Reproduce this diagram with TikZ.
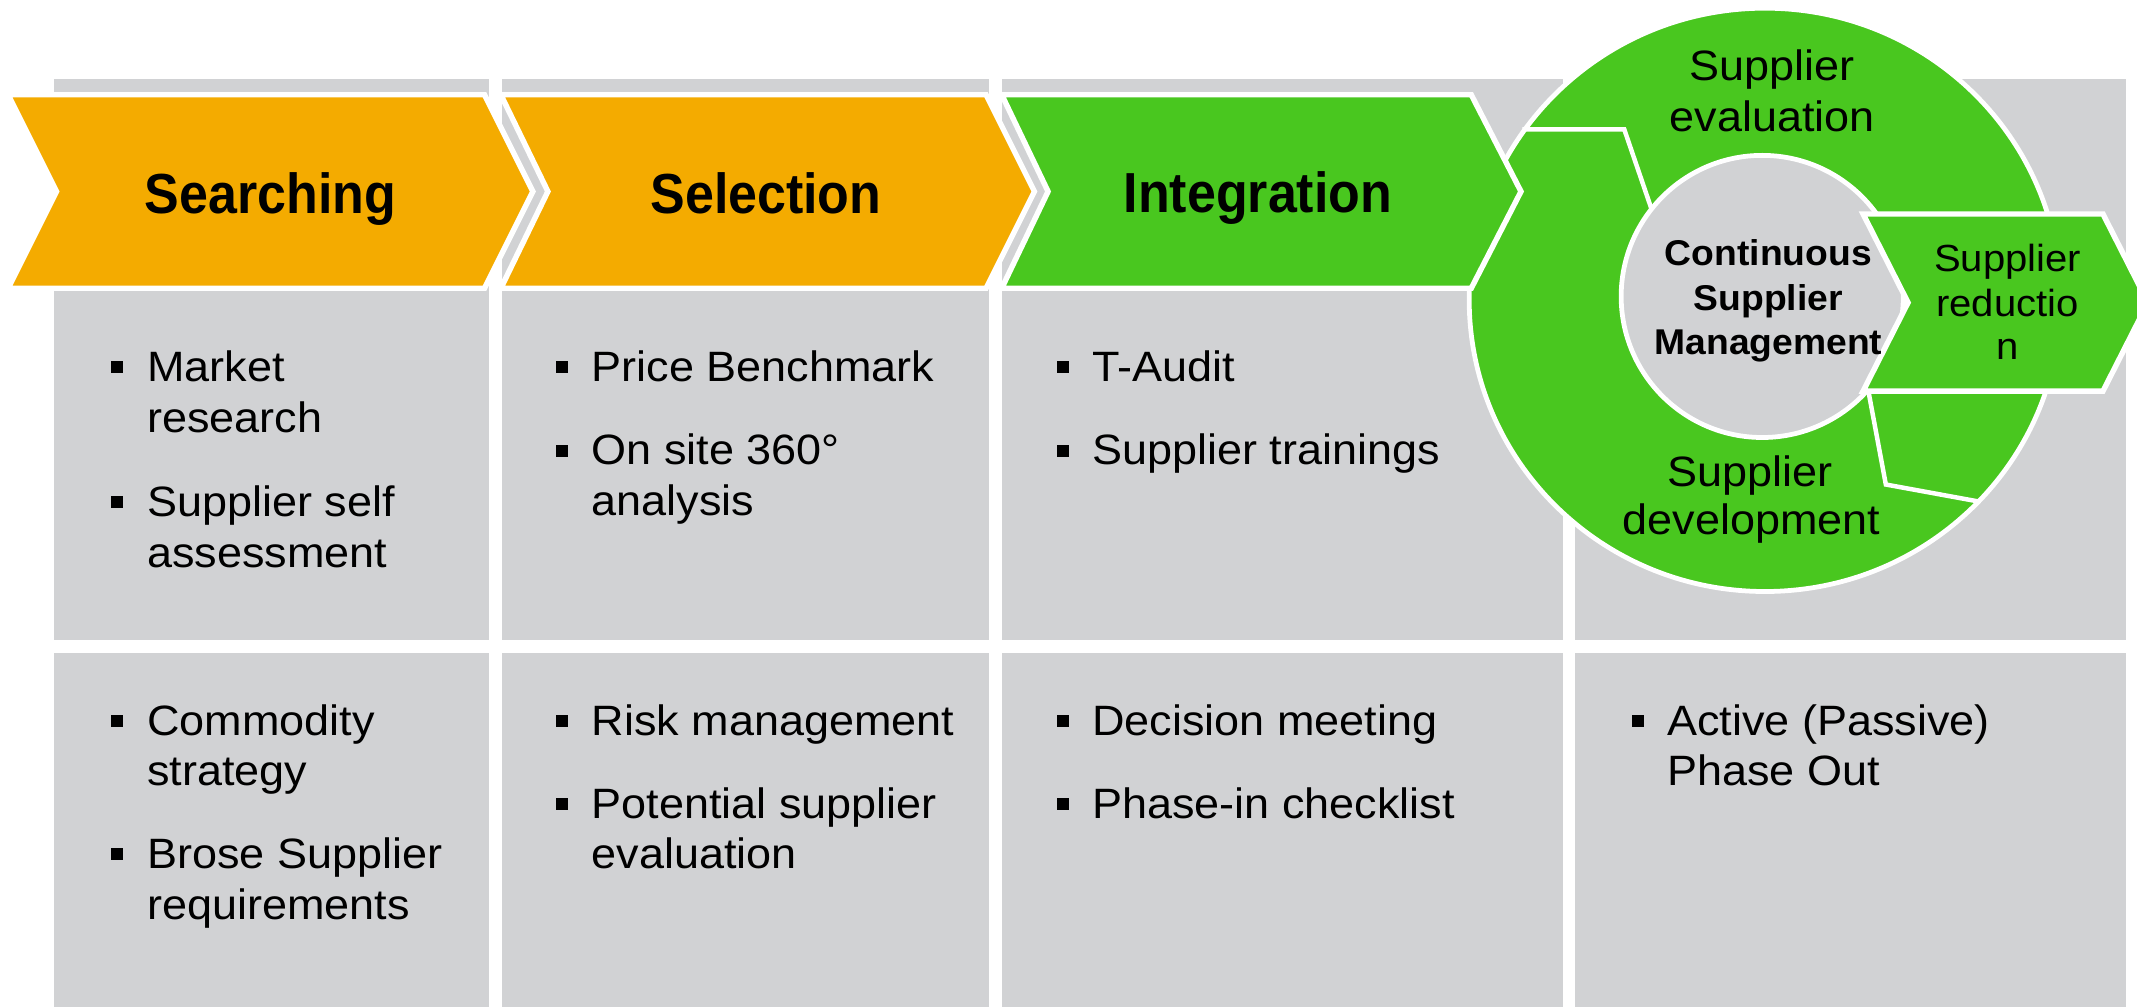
\documentclass[tikz,border=0pt]{standalone}
\usepackage{fontspec}
\setmainfont{Liberation Sans}
\newfontfamily\bodyfont[FakeStretch=1.06]{Liberation Sans}
\newfontfamily\headfont[FakeStretch=0.92]{Liberation Sans}
\newfontfamily\midfont[FakeStretch=1.04]{Liberation Sans}
\definecolor{brorange}{HTML}{F4AB00}
\definecolor{brgreen}{HTML}{49C71F}
\definecolor{brgray}{HTML}{D1D2D4}
\newcommand\bulsq[2]{\fill (#1-25.8,#2-14.8) rectangle ++(8.8,8.8);}
\begin{document}
\begin{tikzpicture}[x=0.7pt,y=-0.7pt,
  cell/.style={fill=brgray},
  chevshape/.style={draw=white, line width=2.8pt, line join=miter},
  ringline/.style={draw=white, line width=2.3pt, line join=miter},
  bt/.style={inner sep=0pt, anchor=base west, font=\bodyfont\fontsize{21.8pt}{26pt}\selectfont},
  ht/.style={inner sep=0pt, anchor=base, font=\headfont\bfseries\fontsize{29pt}{34pt}\selectfont},
  rt/.style={inner sep=0pt, anchor=base, font=\bodyfont\fontsize{21.8pt}{26pt}\selectfont},
  ct/.style={inner sep=0pt, anchor=base, font=\midfont\bfseries\fontsize{18.4pt}{22pt}\selectfont},
  redt/.style={inner sep=0pt, anchor=base, font=\bodyfont\fontsize{19.4pt}{23pt}\selectfont}]
\path[use as bounding box, fill=white] (0,0) rectangle (1568,739);
\clip (0,0) rectangle (1568,739);
% gray cells
\path[cell] (39.6,58) rectangle (358.5,469.6);
\path[cell] (368.5,58) rectangle (725.7,469.6);
\path[cell] (734.9,58) rectangle (1146.9,469.6);
\path[cell] (1155.8,58) rectangle (1560,469.6);
\path[cell] (39.6,478.9) rectangle (358.5,739);
\path[cell] (368.5,478.9) rectangle (725.7,739);
\path[cell] (734.9,478.9) rectangle (1146.9,739);
\path[cell] (1155.8,478.9) rectangle (1560,739);
% ring
\path[fill=brgreen, draw=white, line width=2.45pt] (1295,220) ellipse [x radius=151.9pt, y radius=149.8pt];
\path[ringline] (1117,95) -- (1191.8,95) -- (1213,157);
\path[ringline] (1369.6,280) -- (1383.7,355.5) -- (1452,368);
\path[fill=brgray, draw=white, line width=2.45pt] (1293,217.5) circle [radius=72.45pt];
% phase arrows
\path[chevshape, fill=brorange] (6,69.5) -- (355.5,69.5) -- (391,140.5) -- (355.5,211.5) -- (6,211.5) -- (41.5,140.5) -- cycle;
\path[chevshape, fill=brorange] (367.5,69.5) -- (723.5,69.5) -- (759,140.5) -- (723.5,211.5) -- (367.5,211.5) -- (402,140.5) -- cycle;
\path[chevshape, fill=brgreen] (735,69.5) -- (1079.5,69.5) -- (1116,140.5) -- (1079.5,211.5) -- (735,211.5) -- (769,140.5) -- cycle;
% reduction arrow
\path[chevshape, fill=brgreen] (1367,157) -- (1543,157) -- (1576,222) -- (1543,287) -- (1367,287) -- (1400,222) -- cycle;
% headings
\node[ht] (hsearch) at (198.5,156.5) {Searching};
\node[ht] (hselect) at (562,156.5) {Selection};
\node[ht] (hinteg) at (923,156) {Integration};
% ring texts
\node[rt] (evala) at (1300.5,59) {Supplier};
\node[rt] (evalb) at (1300.5,96.4) {evaluation};
\node[rt] (deva) at (1284,357) {Supplier};
\node[rt] (devb) at (1285,392.5) {development};
\node[ct] (csma) at (1297.5,194.7) {Continuous};
\node[ct] (csmb) at (1297.5,227.6) {Supplier};
\node[ct] (csmc) at (1297.5,260) {Management};
\node[redt] (reda) at (1473,199.5) {Supplier};
\node[redt] (redb) at (1473,232) {reductio};
\node[redt] (redc) at (1473,264) {n};
% column 1
\bulsq{107.6}{280} \bulsq{107.6}{378.7}
\node[bt] (s1) at (107.6,280) {Market};
\node[bt] (s2) at (107.6,317.5) {research};
\node[bt] (s3) at (107.6,378.7) {Supplier self};
\node[bt] (s4) at (107.6,416.2) {assessment};
\bulsq{107.6}{539.3} \bulsq{107.6}{637.3}
\node[bt] (s5) at (107.6,539.3) {Commodity};
\node[bt] (s6) at (107.6,576.5) {strategy};
\node[bt] (s7) at (107.6,637.3) {Brose Supplier};
\node[bt] (s8) at (107.6,674.5) {requirements};
% column 2
\bulsq{434}{280} \bulsq{434}{341}
\node[bt] (e1) at (434,280) {Price Benchmark};
\node[bt] (e2) at (434,341) {On site 360°};
\node[bt] (e3) at (434,378.3) {analysis};
\bulsq{434}{539.3} \bulsq{434}{600.3}
\node[bt] (e4) at (434,539.3) {Risk management};
\node[bt] (e5) at (434,600.3) {Potential supplier};
\node[bt] (e6) at (434,637.5) {evaluation};
% column 3
\bulsq{801}{280} \bulsq{801}{341}
\node[bt] (i1) at (801,280) {T-Audit};
\node[bt] (i2) at (801,341) {Supplier trainings};
\bulsq{801}{539.3} \bulsq{801}{600.3}
\node[bt] (i3) at (801,539.3) {Decision meeting};
\node[bt] (i4) at (801,600.3) {Phase-in checklist};
% column 4
\bulsq{1222.9}{539.3}
\node[bt] (r1) at (1222.9,539.3) {Active (Passive)};
\node[bt] (r2) at (1222.9,576.5) {Phase Out};
\end{tikzpicture}
\end{document}
